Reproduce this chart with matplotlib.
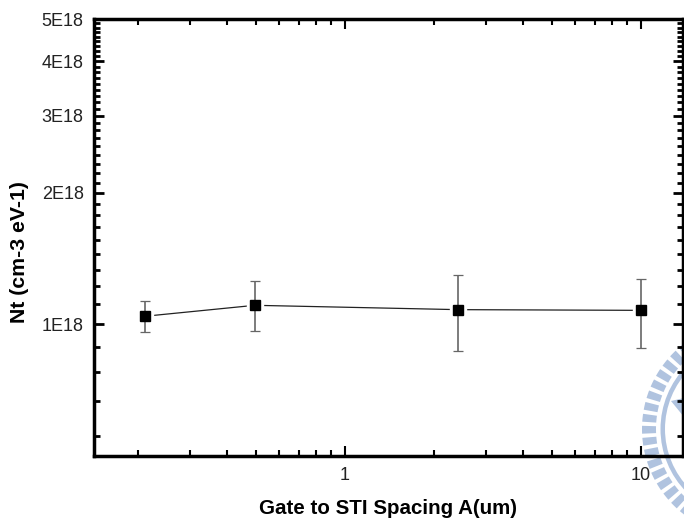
import matplotlib
matplotlib.use('Agg')
import numpy as np
import matplotlib.pyplot as plt
from matplotlib.patches import Wedge, Polygon
from matplotlib.ticker import FixedLocator, FixedFormatter, NullFormatter

spacing = [0.211, 0.496, 2.41, 10.0]
nt = [1.043e18, 1.105e18, 1.08e18, 1.076e18]
nt_low = [0.96e18, 0.966e18, 0.868e18, 0.883e18]
nt_high = [1.13e18, 1.253e18, 1.296e18, 1.269e18]

y_major = [1e18, 2e18, 3e18, 4e18, 5e18]
y_labels = ['1E18', '2E18', '3E18', '4E18', '5E18']
x_major = [1, 10]
x_labels = ['1', '10']
x_minor = [0.2, 0.3, 0.4, 0.5, 0.6, 0.7, 0.8, 0.9, 2, 3, 4, 5, 6, 7, 8, 9]

W, H = 684, 525
LEFT, RIGHT, TOP, BOTTOM = 93.5, 682.5, 19.0, 455.7
LOGO = '#b0c3df'

plt.rcParams['font.family'] = ['Liberation Sans', 'DejaVu Sans']

fig = plt.figure(figsize=(W / 100, H / 100), dpi=100)

# watermark sits behind everything, drawn in pixel coords
bg = fig.add_axes([0, 0, 1, 1], zorder=0)
bg.set_xlim(0, W)
bg.set_ylim(H, 0)
bg.axis('off')
cx, cy = 750, 429
for a in np.arange(90, 271, 6.4):
    bg.add_patch(Wedge((cx, cy), 108, a - 2.1, a + 2.1, width=14, color=LOGO, lw=0))
bg.add_patch(Wedge((cx, cy), 89.5, 90, 270, width=4.5, color=LOGO, lw=0))
bg.add_patch(Polygon([(684, 398), (671, 401), (684, 417)], color=LOGO, lw=0))

ax = fig.add_axes([LEFT / W, 1 - BOTTOM / H, (RIGHT - LEFT) / W, (BOTTOM - TOP) / H], zorder=1)
ax.patch.set_alpha(0)
ax.set_xscale('log')
ax.set_yscale('log')
ax.set_xlim(10 ** ((LEFT - 345) / 296), 10 ** ((RIGHT - 345) / 296))
ax.set_ylim(5e17, 5e18)

yerr = [np.array(nt) - np.array(nt_low), np.array(nt_high) - np.array(nt)]
ax.plot(spacing, nt, color='#222222', lw=0.9, zorder=2)
# white halo gives the gap between line and marker
ax.plot(spacing, nt, ls='none', marker='s', ms=11, mfc='white', mec='white', zorder=3)
ax.errorbar(spacing, nt, yerr=yerr, fmt='none', ecolor='#666666', elinewidth=1.2, capsize=3.3, capthick=0.9, zorder=4)
ax.plot(spacing, nt, ls='none', marker='s', ms=7, mfc='black', mec='black', zorder=5)

ax.xaxis.set_major_locator(FixedLocator(x_major))
ax.xaxis.set_major_formatter(FixedFormatter(x_labels))
ax.xaxis.set_minor_locator(FixedLocator(x_minor))
ax.xaxis.set_minor_formatter(NullFormatter())

# minor ticks split each major gap in nine
y_minor = []
for lo, hi in zip(y_major[:-1], y_major[1:]):
    y_minor += list(np.linspace(lo, hi, 10)[1:-1])
y_minor += [1e18 - k * 1e18 / 9 for k in range(1, 5)]
ax.yaxis.set_major_locator(FixedLocator(y_major))
ax.yaxis.set_major_formatter(FixedFormatter(y_labels))
ax.yaxis.set_minor_locator(FixedLocator(y_minor))
ax.yaxis.set_minor_formatter(NullFormatter())

ax.tick_params(which='both', direction='in', top=True, right=True, labelsize=13, colors='black')
ax.tick_params(axis='x', which='major', length=7.5, width=1.5, pad=8, labelcolor='#222222')
ax.tick_params(axis='x', which='minor', length=4, width=1.5)
ax.tick_params(axis='y', which='major', length=7.5, width=2.0, pad=7, labelcolor='#222222')
ax.tick_params(axis='y', which='minor', length=4, width=2.0)
for s in ax.spines.values():
    s.set_linewidth(2.5)

fig.text(388 / W, 1 - 508 / H, 'Gate to STI Spacing A(um)', fontsize=14.8, fontweight='bold', ha='center', va='center')
fig.text(20 / W, 1 - 252 / H, 'Nt (cm-3 eV-1)', fontsize=15.3, fontweight='bold', rotation=90, ha='center', va='center')

fig.savefig('out.png', dpi=100)
